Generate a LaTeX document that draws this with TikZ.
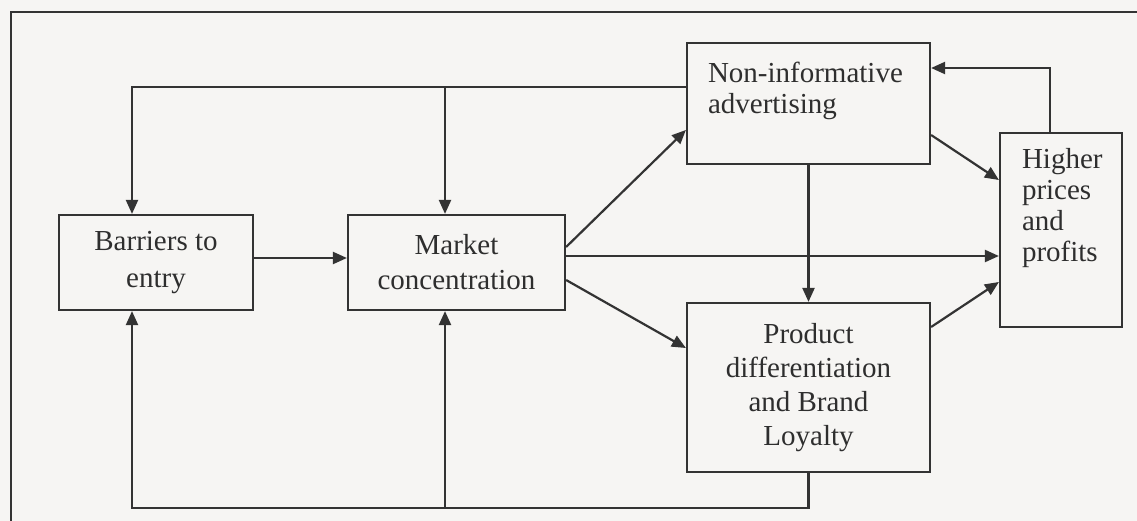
\documentclass[tikz,border=0pt]{standalone}
\usepackage{fontspec}
\setmainfont{Liberation Serif}
\usetikzlibrary{arrows.meta}

\definecolor{ink}{HTML}{333333}
\definecolor{paper}{HTML}{F6F5F3}

\tikzset{
  box/.style={draw=ink, line width=2.2pt, inner sep=0pt, text=ink!90!black,
              font=\fontsize{29}{31}\selectfont},
  wire/.style={draw=ink, line width=2.2pt},
  arr/.style={wire, -{Triangle[length=14pt,width=12pt]}},
}

% centred box text: width, height, line spacing, lines
\newcommand\ctrtext[4]{\parbox[c][#2][c]{#1}{\centering\baselineskip=#3\relax #4\par}}
% left-set box text: width, height, top gap, left gap, line spacing, lines
\newcommand\lfttext[6]{\parbox[c][#2][t]{#1}{\vspace*{#3}\leftskip=#4\relax\baselineskip=#5\relax #6\par}}

\begin{document}
\begin{tikzpicture}[x=1pt, y=-1pt]
  \fill[paper] (0,0) rectangle (1137,521);
  \useasboundingbox (0,0) rectangle (1137,521);

  % frame round the figure
  \draw[wire, line width=2.5pt] (11,521) -- (11,12) -- (1137,12);

  % boxes
  \node[box] (bar) at (156,262.5)   {\ctrtext{194pt}{95pt}{37pt}{Barriers to\\entry}};
  \node[box] (mkt) at (456.5,262.5) {\ctrtext{217pt}{95pt}{35pt}{Market\\concentration}};
  \node[box] (nia) at (808.5,103.5) {\lfttext{243pt}{121pt}{19pt}{21pt}{31pt}{Non-informative\\advertising}};
  \node[box] (pd)  at (808.5,387.5) {\ctrtext{243pt}{169pt}{34pt}{Product\\differentiation\\and Brand\\Loyalty}};
  \node[box] (hpp) at (1061,230)    {\lfttext{122pt}{194pt}{15pt}{22pt}{31pt}{Higher\\prices\\and\\profits}};

  % routing points of the feedback lines
  \coordinate (tfb) at (132,87);
  \coordinate (tbr) at (445,87);
  \coordinate (bfb) at (132,508);
  \coordinate (bbr) at (445,508);
  \coordinate (hret) at (1050,68);

  % advertising feeds back to entry barriers and concentration
  \draw[arr] (nia.west |- tfb) -- (tfb) -- (tfb |- bar.north);
  \draw[arr] (tbr) -- (tbr |- mkt.north);

  % brand loyalty feeds back to entry barriers and concentration
  \draw[arr] (pd.south) -- (pd.south |- bfb) -- (bfb) -- (bfb |- bar.south);
  \draw[arr] (bbr) -- (bbr |- mkt.south);

  % forward links
  \draw[arr] ([yshift=4.5pt]bar.east) -- ([yshift=4.5pt]bar.east -| mkt.west);
  \draw[arr] ([yshift=15.5pt]mkt.east) -- ([yshift=-26.5pt]nia.west);
  \draw[arr] ([yshift=6.5pt]mkt.east) -- ([yshift=6.5pt]mkt.east -| hpp.west);
  \draw[arr] ([yshift=-17.5pt]mkt.east) -- ([yshift=39.5pt]pd.west);
  \draw[arr] (nia.south) -- (pd.north);
  \draw[arr] ([yshift=-31.5pt]nia.east) -- ([yshift=50pt]hpp.west);
  \draw[arr] ([yshift=60.5pt]pd.east) -- ([yshift=-52pt]hpp.west);

  % profits fund more advertising
  \draw[arr] (hret |- hpp.north) -- (hret) -- (hret -| nia.east);
\end{tikzpicture}
\end{document}
